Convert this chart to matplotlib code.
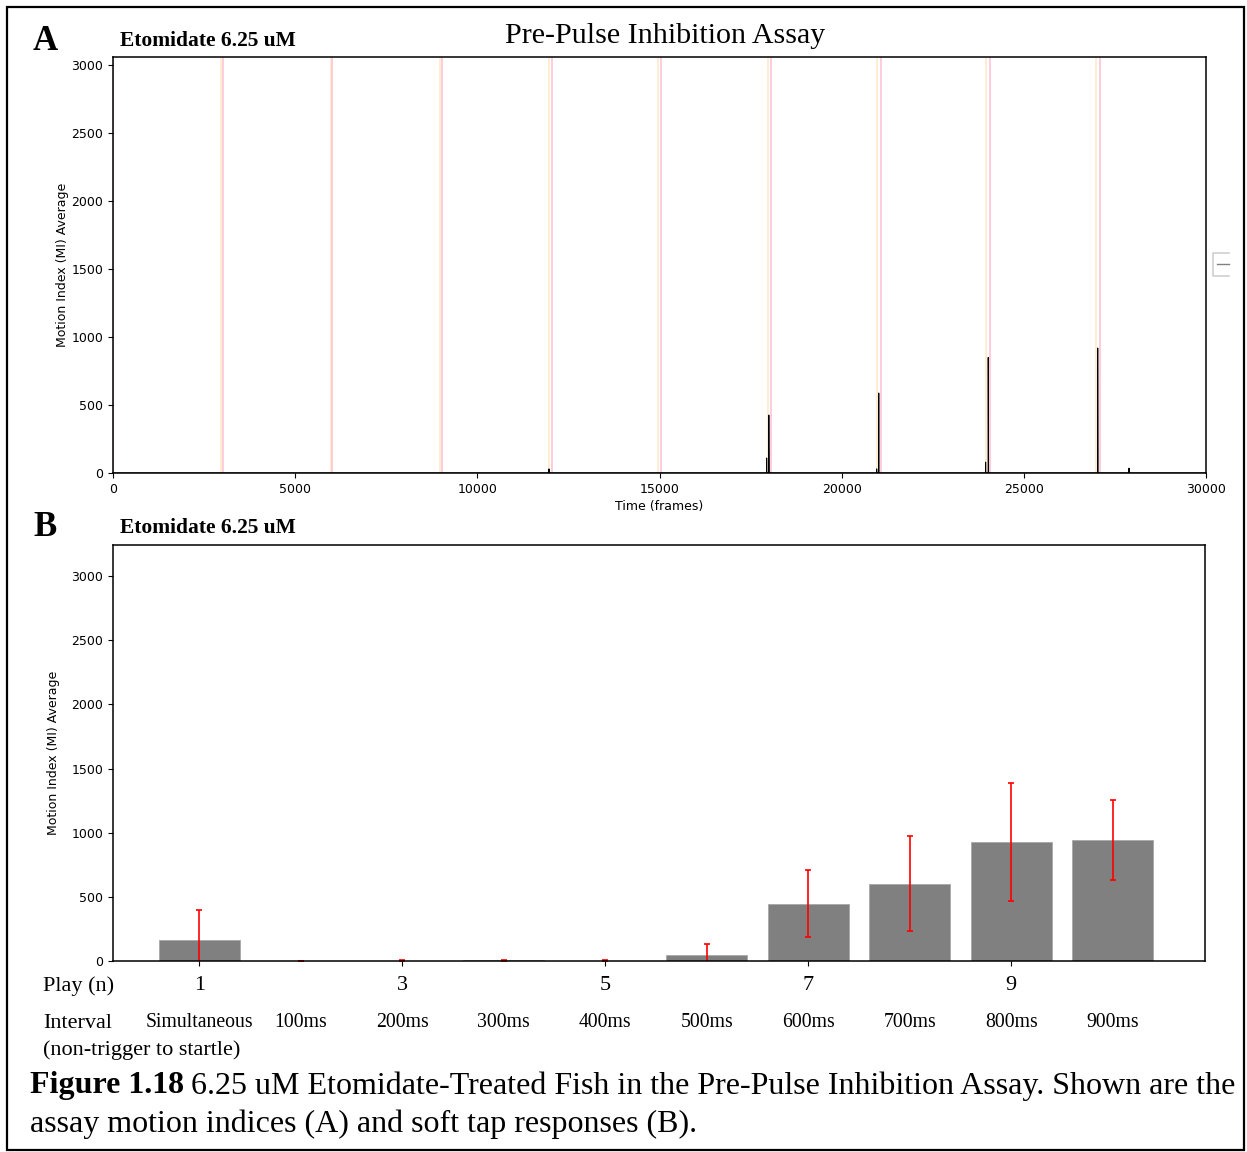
import numpy as np
import matplotlib
matplotlib.use("Agg")
import matplotlib.pyplot as plt
from matplotlib.patches import Rectangle

W, H = 1247, 1152
SERIF = "Liberation Serif"

# ---- panel A: motion index trace ----
n_frames = 30000
pulse_starts = [0, 3000, 6000, 9000, 12000, 15000, 18000, 21000, 24000, 27000]
startle_offsets = [0, 10, 20, 30, 40, 50, 60, 70, 80, 90]   # frames (100 fps)
spike_frames = [11967, 17940, 18000, 18002, 20960, 21017, 23950, 24024, 24026,
                27027, 27029, 27887]
spike_values = [30, 110, 426, 200, 30, 588, 80, 850, 570, 919, 555, 35]

# ---- panel B: soft tap responses ----
plays = [1, 2, 3, 4, 5, 6, 7, 8, 9, 10]
intervals = ["Simultaneous", "100ms", "200ms", "300ms", "400ms",
             "500ms", "600ms", "700ms", "800ms", "900ms"]
mi_mean = [164, 0, 2, 5, 2, 47, 446, 602, 927, 943]
mi_err = [232, 0, 2, 5, 2, 86, 262, 372, 458, 312]


def fx(x):
    return x / W


def fy(y):
    return 1 - y / H


fig = plt.figure(figsize=(W / 100, H / 100), dpi=100)
fig.patch.set_facecolor("white")

# --- top panel ---
ax1 = fig.add_axes([fx(113), fy(473), fx(1206) - fx(113), fy(57) - fy(473)])
trace = np.zeros(n_frames)
for f, v in zip(spike_frames, spike_values):
    trace[f] = v
for s, o in zip(pulse_starts, startle_offsets):
    ax1.axvline(s - 30, color="orange", alpha=0.18, lw=1.4, zorder=1)
    ax1.axvline(s + o, color="#ffc2d6", alpha=0.9, lw=1.3, zorder=1)
ax1.plot(np.arange(n_frames), trace, color="black", lw=0.8, zorder=2)
ax1.set_xlim(0, 30000)
ax1.set_ylim(0, 3060)
ax1.set_yticks(range(0, 3001, 500))
ax1.set_xticks(range(0, 30001, 5000))
ax1.set_xlabel("Time (frames)", fontsize=9, labelpad=3)
ax1.set_ylabel("Motion Index (MI) Average", fontsize=9, labelpad=2)
ax1.tick_params(labelsize=9)

# --- bottom panel ---
ax2 = fig.add_axes([fx(113), fy(961), fx(1205) - fx(113), fy(545) - fy(961)])
ax2.bar(plays, mi_mean, width=0.8, color="gray", edgecolor="#a8a8a8", lw=0.6)
ax2.errorbar(plays, mi_mean, yerr=mi_err, fmt="none", ecolor="red",
             elinewidth=1.2, capsize=2, capthick=1.2)
ax2.set_xlim(0.15, 10.91)
ax2.set_ylim(0, 3242)
ax2.set_yticks(range(0, 3001, 500))
ax2.set_xticks([1, 3, 5, 7, 9])
ax2.set_xticklabels(["1", "3", "5", "7", "9"], fontfamily=SERIF, fontsize=16)
ax2.tick_params(axis="x", pad=7)
ax2.tick_params(axis="y", labelsize=9)
ax2.set_ylabel("Motion Index (MI) Average", fontsize=9, labelpad=8)
for x, lab in zip(plays, intervals):
    ax2.text(x, -0.147, lab, transform=ax2.get_xaxis_transform(),
             ha="center", va="center", fontfamily=SERIF, fontsize=14.2)

for ax in (ax1, ax2):
    for sp in ax.spines.values():
        sp.set_linewidth(1.1)

# --- figure texts ---
fig.text(fx(33), fy(41), "A", fontfamily=SERIF, fontweight="bold",
         fontsize=25, va="center")
fig.text(fx(120), fy(41), "Etomidate 6.25 uM", fontfamily=SERIF,
         fontweight="bold", fontsize=15.5, va="center")
fig.text(fx(665), fy(36), "Pre-Pulse Inhibition Assay", fontfamily=SERIF,
         fontsize=21.6, ha="center", va="center")
fig.text(fx(33), fy(527), "B", fontfamily=SERIF, fontweight="bold",
         fontsize=25, va="center")
fig.text(fx(120), fy(528), "Etomidate 6.25 uM", fontfamily=SERIF,
         fontweight="bold", fontsize=15.5, va="center")
fig.text(fx(43), fy(986), "Play (n)", fontfamily=SERIF, fontsize=16, va="center")
fig.text(fx(43), fy(1023), "Interval", fontfamily=SERIF, fontsize=16, va="center")
fig.text(fx(43), fy(1050), "(non-trigger to startle)", fontfamily=SERIF,
         fontsize=16, va="center")

# caption: bold lead, regular remainder placed right after it
cap_bold = fig.text(fx(30), fy(1086), "Figure 1.18", fontfamily=SERIF,
                    fontweight="bold", fontsize=23, va="center")
fig.canvas.draw()
bb = cap_bold.get_window_extent()
fig.text(bb.x1 / W + fx(7), fy(1086),
         "6.25 uM Etomidate-Treated Fish in the Pre-Pulse Inhibition Assay. "
         "Shown are the", fontfamily=SERIF, fontsize=23, va="center")
fig.text(fx(30), fy(1124),
         "assay motion indices (A) and soft tap responses (B).",
         fontfamily=SERIF, fontsize=23, va="center")

# clipped legend stub at right edge of panel A
fig.add_artist(plt.Line2D([fx(1229), fx(1213), fx(1213), fx(1229)],
                          [fy(253), fy(253), fy(276), fy(276)],
                          transform=fig.transFigure, color="#d0d0d0", lw=1.2))
fig.add_artist(plt.Line2D([fx(1217), fx(1229)], [fy(264), fy(264)],
                          transform=fig.transFigure, color="#808080", lw=1))

# outer frame
fig.patches.append(Rectangle((fx(7), fy(1150)), fx(1244) - fx(7),
                             fy(7) - fy(1150), transform=fig.transFigure,
                             fill=False, ec="black", lw=1.6))

fig.savefig("out.png", dpi=100, facecolor="white")
